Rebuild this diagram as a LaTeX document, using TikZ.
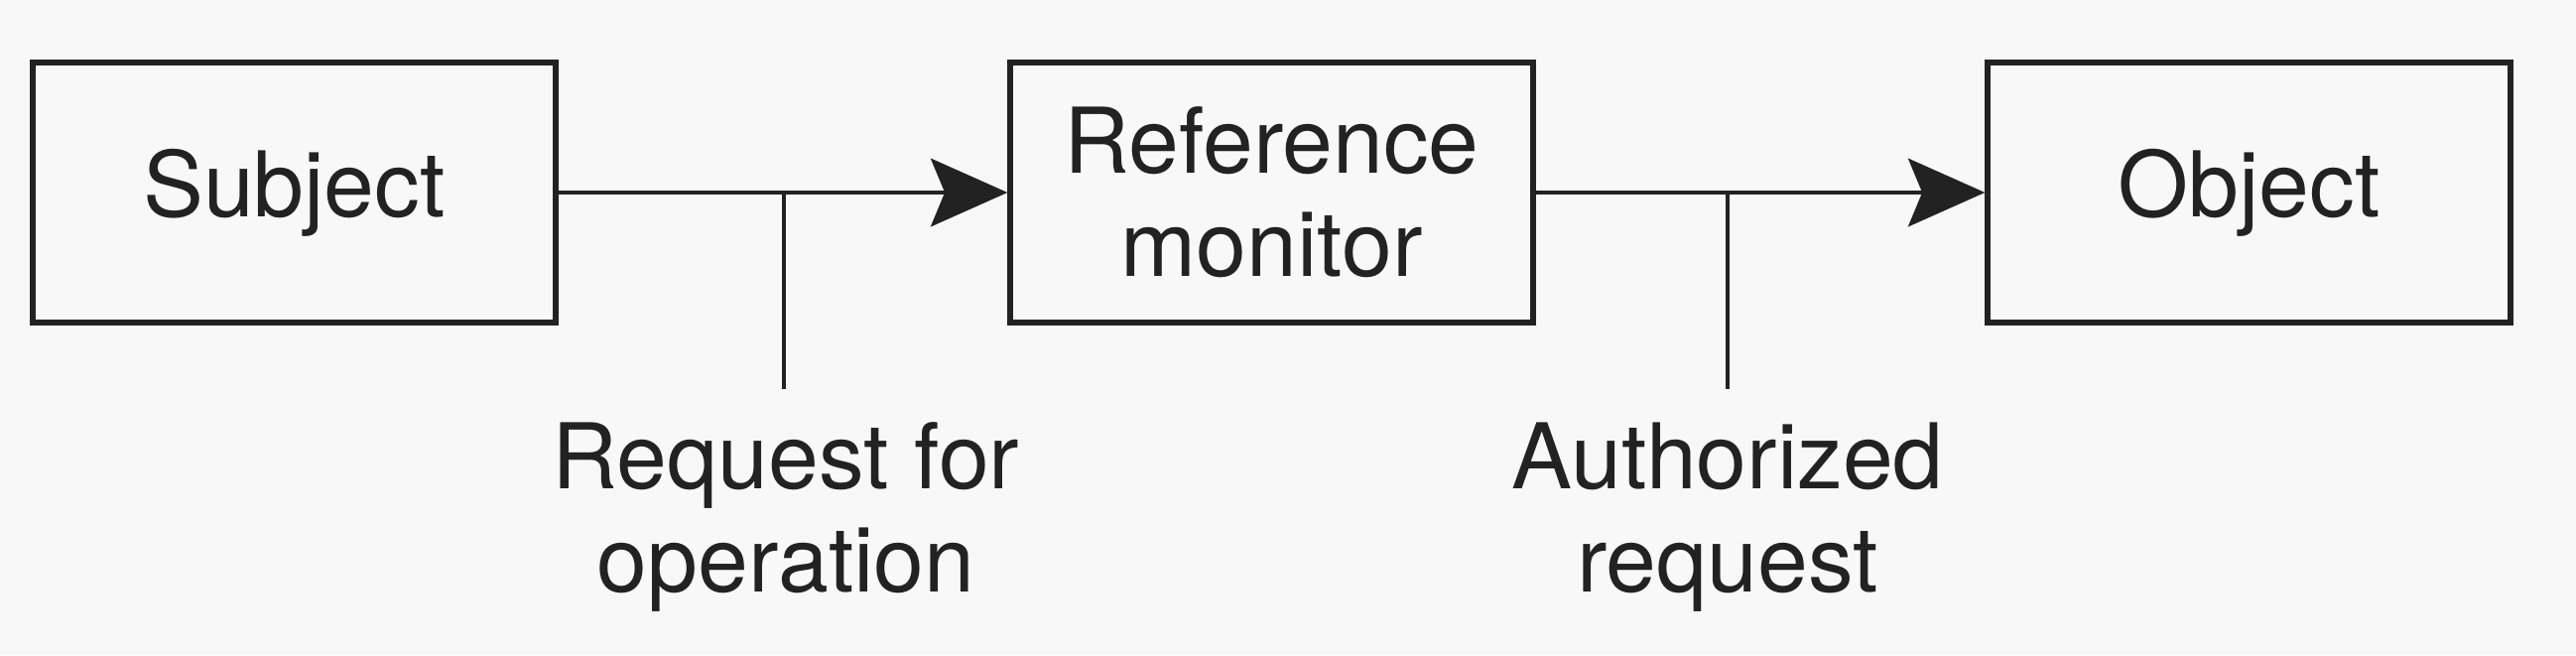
\documentclass[tikz,border=0pt]{standalone}
\usepackage{fontspec}
\setmainfont{TeX Gyre Heros}
\usetikzlibrary{arrows.meta,positioning}
\definecolor{bg}{HTML}{F8F8F8}
\definecolor{ink}{HTML}{222222}
\tikzset{
  box/.style={draw=ink,line width=1.5pt,minimum width=5.27cm,minimum height=2.62cm,align=center,inner sep=0pt,text=ink},
  ar/.style={-{Stealth[length=22pt,width=19.5pt,inset=4pt]},line width=1.4pt,draw=ink},
  tick/.style={line width=0.9pt,draw=ink},
  lbl/.style={align=center,inner sep=0pt,anchor=north,text=ink},
}

\begin{document}
\begin{tikzpicture}[x=0.1mm,y=-0.1mm,font=\fontsize{26}{29.5}\selectfont]
\fill[bg] (0,0) rectangle (2596,660);
% ---- boxes ----
\node[box] (subj)   at (296.5,194)  {Subject};
\node[box] (refmon) at (1281.5,194) {Reference\\monitor};
\node[box] (obj)    at (2266.5,194) {Object};
\draw[ar] (subj.east) -- (refmon.west);
\draw[ar] (refmon.east) -- (obj.west);

% ---- labels ----
\node[lbl] (reqlbl)  at (792,425)  {Request for\\operation};
\node[lbl] (authlbl) at (1741,425) {Authorized\\request};
\coordinate (reqtop)  at (790,194);  \coordinate (reqbot)  at (790,392);
\coordinate (authtop) at (1741,194); \coordinate (authbot) at (1741,392);
\draw[tick] (reqtop) -- (reqbot);
\draw[tick] (authtop) -- (authbot);
\end{tikzpicture}
\end{document}
